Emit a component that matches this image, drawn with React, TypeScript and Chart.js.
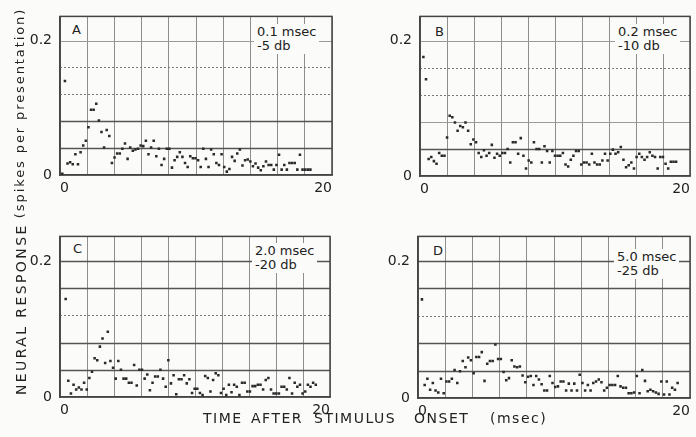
import React, { useEffect, useRef } from "react";
import { Chart, registerables } from "chart.js";

Chart.register(...registerables);

// ---------- data ----------
const X_TICK_VALUES = [0, 20];
const X_TICK_LABELS = ["0", "20"];
const Y_TICK_VALUES = [0, 0.2];
const Y_TICK_LABELS = ["0", "0.2"];
const H_GRID_VALUES = [0.04, 0.08, 0.12, 0.16, 0.2];

const PANEL_LETTERS = ["A", "B", "C", "D"];
const PANEL_NOTES = [
  ["0.1 msec", "-5 db"],
  ["0.2 msec", "-10 db"],
  ["2.0 msec", "-20 db"],
  ["5.0 msec", "-25 db"],
];

// first bin time and bin width (msec) of each panel
const BIN_START = [0.17, 0.25, 0.42, 0.29];
const BIN_WIDTH = [0.192, 0.195, 0.195, 0.2];

const RESP_A = [
  0.002, 0.14, 0.017, 0.019, 0.016, 0.031, 0.016, 0.034, 0.044, 0.051, 0.071, 0.097, 0.097, 0.106, 0.081, 0.064,
  0.041, 0.067, 0.058, 0.018, 0.026, 0.032, 0.032, 0.039, 0.047, 0.024, 0.041, 0.036, 0.038, 0.039, 0.044, 0.043,
  0.051, 0.031, 0.041, 0.051, 0.028, 0.039, 0.015, 0.024, 0.039, 0.039, 0.011, 0.022, 0.027, 0.034, 0.027, 0.018,
  0.012, 0.028, 0.025, 0.025, 0.022, 0.012, 0.039, 0.024, 0.012, 0.038, 0.031, 0.018, 0.015, 0.031, 0.012, 0.005,
  0.009, 0.027, 0.021, 0.032, 0.038, 0.014, 0.022, 0.023, 0.02, 0.013, 0.017, 0.011, 0.007, 0.013, 0.02, 0.015,
  0.015, 0.008, 0.015, 0.03, 0.008, 0.015, 0.008, 0.018, 0.018, 0.018, 0.008, 0.03, 0.008, 0.008, 0.008, 0.008,
];

const RESP_B = [
  0.176, 0.143, 0.025, 0.028, 0.022, 0.018, 0.034, 0.03, 0.03, 0.057, 0.089, 0.087, 0.079, 0.067, 0.074, 0.072,
  0.079, 0.067, 0.047, 0.054, 0.05, 0.034, 0.028, 0.038, 0.03, 0.034, 0.046, 0.027, 0.033, 0.03, 0.034, 0.034,
  0.04, 0.02, 0.05, 0.05, 0.033, 0.056, 0.03, 0.011, 0.023, 0.02, 0.05, 0.04, 0.04, 0.02, 0.044, 0.037,
  0.02, 0.037, 0.03, 0.03, 0.03, 0.034, 0.017, 0.014, 0.024, 0.03, 0.037, 0.037, 0.017, 0.02, 0.02, 0.017,
  0.033, 0.02, 0.017, 0.017, 0.023, 0.033, 0.023, 0.033, 0.039, 0.033, 0.035, 0.043, 0.024, 0.013, 0.016, 0.02,
  0.011, 0.028, 0.033, 0.028, 0.024, 0.028, 0.035, 0.03, 0.028, 0.011, 0.028, 0.028, 0.018, 0.011, 0.021, 0.021,
  0.021,
];

const RESP_C = [
  0.144, 0.024, 0.005, 0.018, 0.011, 0.014, 0.011, 0.021, 0.011, 0.028, 0.037, 0.057, 0.054, 0.074, 0.086, 0.05,
  0.096, 0.053, 0.043, 0.027, 0.053, 0.04, 0.027, 0.027, 0.021, 0.021, 0.047, 0.017, 0.04, 0.04, 0.027, 0.033,
  0.01, 0.021, 0.03, 0.03, 0.04, 0.027, 0.015, 0.054, 0.02, 0.032, 0.004, 0.026, 0.026, 0.032, 0.02, 0.026,
  0.006, 0.012, 0.012, 0.006, 0.003, 0.031, 0.028, 0.008, 0.025, 0.035, 0.032, 0.006, 0.012, 0.003, 0.018, 0.007,
  0.018, 0.015, 0.003, 0.021, 0.021, 0.008, 0.008, 0.016, 0.016, 0.018, 0.018, 0.011, 0.025, 0.028, 0.011, 0.005,
  0.005, 0.005, 0.015, 0.015, 0.011, 0.028, 0.005, 0.021, 0.015, 0.018, 0.005, 0.008, 0.018, 0.015, 0.021, 0.018,
];

const RESP_D = [
  0.144, 0.019, 0.028, 0.012, 0.022, 0.011, 0.008, 0.028, 0.007, 0.024, 0.024, 0.028, 0.041, 0.022, 0.039, 0.054,
  0.045, 0.059, 0.055, 0.036, 0.06, 0.06, 0.067, 0.025, 0.05, 0.054, 0.054, 0.078, 0.057, 0.057, 0.038, 0.026,
  0.029, 0.055, 0.046, 0.045, 0.046, 0.033, 0.023, 0.031, 0.032, 0.019, 0.032, 0.027, 0.02, 0.011, 0.011, 0.032,
  0.022, 0.016, 0.017, 0.024, 0.024, 0.011, 0.021, 0.011, 0.021, 0.011, 0.034, 0.022, 0.011, 0.019, 0.011, 0.022,
  0.024, 0.027, 0.023, 0.011, 0.015, 0.019, 0.019, 0.019, 0.032, 0.017, 0.015, 0.015, 0.007, 0.007, 0.008, 0.032,
  0.007, 0.041, 0.025, 0.01, 0.012, 0.01, 0.008, 0.006, 0.024, 0.005, 0.024, 0.005, 0.015, 0.012, 0.022,
];

const RESPONSES = [RESP_A, RESP_B, RESP_C, RESP_D];

const X_TITLE_WORDS = ["TIME", "AFTER", "STIMULUS", "ONSET", "(msec)"];
const Y_TITLE_UPPER = "(spikes per presentation)";
const Y_TITLE_LOWER = "NEURAL RESPONSE";

// ---------- layout / style ----------
const PAGE_BG = "#fbfbf9";
const INK = "#222";
const FONT = "'DejaVu Sans', 'Liberation Sans', sans-serif";
const Y_MAX = 0.236;
const Y_AXIS_W = 40;

const PANEL_BOX = [
  { left: 20, top: 0, w: 330, h: 200, padTop: 13, padRight: 18, xAxisH: 25 },
  { left: 380, top: 0, w: 330, h: 200, padTop: 13, padRight: 20, xAxisH: 24 },
  { left: 20, top: 220, w: 330, h: 200, padTop: 14, padRight: 20, xAxisH: 23 },
  { left: 378, top: 220, w: 332, h: 200, padTop: 15, padRight: 20, xAxisH: 22 },
];

const DARK = { color: "#555", width: 1.3, dash: [] as number[] };
const DOTTED = { color: "#7a7a7a", width: 1, dash: [2, 2] };
const FAINT = { color: "#9a9a9a", width: 1, dash: [] as number[] };
// style of the horizontal lines at H_GRID_VALUES, per panel
const H_GRID_STYLE = [
  [DARK, DARK, DOTTED, DOTTED, FAINT],
  [DARK, FAINT, DOTTED, DOTTED, FAINT],
  [DARK, DARK, DOTTED, DARK, DARK],
  [DARK, DARK, DOTTED, DARK, DARK],
];

const LETTER_POS = [
  { left: 71, top: 22 },
  { left: 434, top: 24 },
  { left: 72, top: 241 },
  { left: 432, top: 243 },
];
const NOTE_POS = [
  { left: 254, top: 24 },
  { left: 615, top: 24 },
  { left: 252, top: 243 },
  { left: 614, top: 249 },
];
const X_TITLE_LEFT = [203, 251, 314, 414, 490];

const gridPlugin = {
  id: "hgrid",
  beforeDatasetsDraw(chart: any, _args: any, opts: any) {
    const { ctx, chartArea: a, scales } = chart;
    const y = scales.y;
    const styles = opts.styles || [];
    ctx.save();
    H_GRID_VALUES.forEach((v, k) => {
      const st = styles[k] || FAINT;
      const py = Math.round(y.getPixelForValue(v)) + 0.5;
      ctx.strokeStyle = st.color;
      ctx.lineWidth = st.width;
      ctx.setLineDash(st.dash);
      ctx.beginPath();
      ctx.moveTo(a.left, py);
      ctx.lineTo(a.right, py);
      ctx.stroke();
    });
    ctx.setLineDash([]);
    ctx.strokeStyle = "#444";
    ctx.lineWidth = 1.5;
    ctx.strokeRect(a.left, a.top, a.right - a.left, a.bottom - a.top);
    ctx.restore();
  },
};

function Panel({ idx }: { idx: number }) {
  const ref = useRef<HTMLCanvasElement | null>(null);
  const box = PANEL_BOX[idx];

  useEffect(() => {
    if (!ref.current) return;
    const values = RESPONSES[idx];
    const pts = values.map((y, i) => ({ x: BIN_START[idx] + i * BIN_WIDTH[idx], y }));
    const chart = new Chart(ref.current, {
      type: "scatter",
      data: {
        datasets: [
          {
            data: pts,
            pointStyle: "rect",
            pointRadius: 1.8,
            pointBorderWidth: 0,
            backgroundColor: "#2a2a2a",
            borderColor: "#2a2a2a",
          },
        ],
      },
      plugins: [gridPlugin],
      options: {
        animation: false,
        responsive: false,
        maintainAspectRatio: false,
        events: [],
        layout: { padding: { top: box.padTop, right: box.padRight, bottom: 0, left: 0 } },
        plugins: {
          legend: { display: false },
          tooltip: { enabled: false },
          hgrid: { styles: H_GRID_STYLE[idx] },
        } as any,
        scales: {
          x: {
            type: "linear",
            min: 0,
            max: 20,
            afterFit: (s: any) => {
              s.height = box.xAxisH;
            },
            ticks: {
              stepSize: 2,
              autoSkip: false,
              maxRotation: 0,
              padding: 5,
              align: "inner",
              color: INK,
              font: { family: FONT, size: 14 },
              callback: (v: any) => {
                const n = Number(v);
                const k = X_TICK_VALUES.findIndex((t) => Math.abs(t - n) < 1e-6);
                return k >= 0 ? X_TICK_LABELS[k] : "";
              },
            },
            grid: {
              drawTicks: false,
              lineWidth: 1,
              color: "#8e8e8e",
            },
            border: { color: "#444", width: 1.5 },
          },
          y: {
            type: "linear",
            min: 0,
            max: Y_MAX,
            afterFit: (s: any) => {
              s.width = Y_AXIS_W;
            },
            afterBuildTicks: (s: any) => {
              s.ticks = Y_TICK_VALUES.map((v) => ({ value: v }));
            },
            ticks: {
              autoSkip: false,
              padding: 8,
              color: INK,
              font: { family: FONT, size: 14 },
              callback: (v: any) => {
                const n = Number(v);
                const k = Y_TICK_VALUES.findIndex((t) => Math.abs(t - n) < 1e-6);
                return k >= 0 ? Y_TICK_LABELS[k] : "";
              },
            },
            grid: { display: false, drawTicks: false },
            border: { color: "#444", width: 1.5 },
          },
        },
      },
    } as any);
    return () => chart.destroy();
  }, [idx]);

  return (
    <canvas
      ref={ref}
      width={box.w}
      height={box.h}
      style={{ position: "absolute", left: box.left, top: box.top, width: box.w, height: box.h }}
    />
  );
}

function Rotated({ text, cx, cy, len, size, spacing }: { text: string; cx: number; cy: number; len: number; size: number; spacing: number }) {
  return (
    <div
      style={{
        position: "absolute",
        left: cx - len / 2,
        top: cy - 10,
        width: len,
        height: 20,
        lineHeight: "20px",
        textAlign: "center",
        transform: "rotate(-90deg)",
        transformOrigin: "50% 50%",
        whiteSpace: "pre",
        fontFamily: FONT,
        fontSize: size,
        letterSpacing: spacing,
        color: INK,
      }}
    >
      {text}
    </div>
  );
}

export default function App() {
  return (
    <div
      style={{
        position: "fixed",
        left: 0,
        top: 0,
        width: 696,
        height: 437,
        overflow: "hidden",
        background: PAGE_BG,
      }}
    >
      {PANEL_LETTERS.map((_, i) => (
        <Panel key={i} idx={i} />
      ))}
      {PANEL_LETTERS.map((l, i) => (
        <div
          key={"l" + i}
          style={{
            position: "absolute",
            left: LETTER_POS[i].left,
            top: LETTER_POS[i].top,
            fontFamily: FONT,
            fontSize: 13,
            lineHeight: "15px",
            color: INK,
            background: PAGE_BG,
            padding: "0 1px",
          }}
        >
          {l}
        </div>
      ))}
      {PANEL_NOTES.map((lines, i) => (
        <div
          key={"n" + i}
          style={{
            position: "absolute",
            left: NOTE_POS[i].left,
            top: NOTE_POS[i].top,
            fontFamily: FONT,
            fontSize: 13,
            lineHeight: "14px",
            color: INK,
            background: PAGE_BG,
            padding: "1px 3px",
            whiteSpace: "pre",
          }}
        >
          {lines[0]}
          <br />
          {lines[1]}
        </div>
      ))}
      {X_TITLE_WORDS.map((w, i) => (
        <div
          key={"t" + i}
          style={{
            position: "absolute",
            left: X_TITLE_LEFT[i],
            top: 410,
            fontFamily: FONT,
            fontSize: 14,
            letterSpacing: 1.5,
            lineHeight: "16px",
            color: INK,
            whiteSpace: "pre",
          }}
        >
          {w}
        </div>
      ))}
      <Rotated text={Y_TITLE_UPPER} cx={20} cy={113} len={214} size={13} spacing={1.9} />
      <Rotated text={Y_TITLE_LOWER} cx={21} cy={310} len={170} size={14} spacing={2.4} />
    </div>
  );
}
